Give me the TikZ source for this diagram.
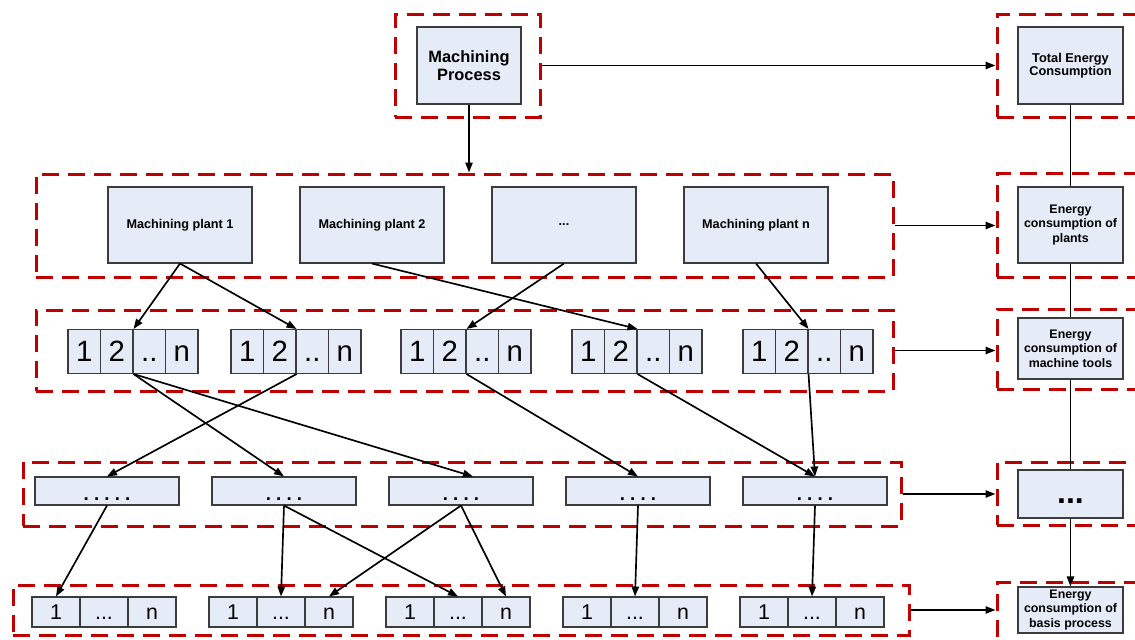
\documentclass[tikz,border=0pt]{standalone}
\usepackage{fontspec}
\setmainfont{Liberation Sans}
\usetikzlibrary{arrows.meta}
\newdimen\pxu \pxu=0.75pt
\frenchspacing
\definecolor{frmred}{RGB}{192,0,0}
\definecolor{boxfill}{RGB}{229,236,247}
\definecolor{boxline}{RGB}{60,60,60}
\tikzset{
  frm/.style={draw=frmred, line width=2.25pt, dash pattern=on 12.5pt off 7pt, inner sep=0pt},
  box/.style={draw=boxline, fill=boxfill, line width=0.8pt, inner sep=0pt, align=center},
  lbl/.style={box, font=\bfseries\fontsize{9.3}{10.8}\selectfont},
  plant/.style={box, font=\bfseries\fontsize{9.5}{11}\selectfont, minimum width=144\pxu, minimum height=76\pxu},
  cellA/.style={box, font=\fontsize{22}{24}\selectfont, minimum width=32.5\pxu, minimum height=44\pxu, text height=32\pxu, text depth=12\pxu},
  dotbox/.style={box, font=\bfseries\fontsize{14}{16}\selectfont, minimum width=144\pxu, minimum height=28\pxu, text height=23.5\pxu, text depth=4.5\pxu},
  cellB/.style={box, font=\fontsize{16}{18}\selectfont, minimum width=48\pxu, minimum height=30\pxu, text height=22.3\pxu, text depth=7.7\pxu},
  ln/.style={line width=1.25pt, black},
  arr/.style={ln, -{Triangle[length=7.5pt,width=5.5pt]}}
}
\newcommand\mtgroup[2]{%
  \node[cellA] (#1c1) at (#2+16.25,351.5) {1};
  \node[cellA] (#1c2) at (#2+48.75,351.5) {2};
  \node[cellA] (#1c3) at (#2+81.25,351.5) {..};
  \node[cellA] (#1c4) at (#2+113.75,351.5) {n};
}
\newcommand\bpgroup[2]{%
  \node[cellB] (#1c1) at (#2+24,612) {1};
  \node[cellB] (#1c2) at (#2+72,612) {...};
  \node[cellB] (#1c3) at (#2+120,612) {n};
}
\begin{document}
\begin{tikzpicture}[x=0.75pt,y=-0.75pt]
\useasboundingbox (0,0) rectangle (1135,639);
\clip (0,0) rectangle (1135,639);

% dashed frames
\node[frm, minimum width=145\pxu, minimum height=103\pxu] (f0) at (467.5,65.5) {};
\node[frm, minimum width=163\pxu, minimum height=103\pxu] (fte) at (1078.5,65.5) {};
\node[frm, minimum width=857\pxu, minimum height=103\pxu] (f2) at (464.5,225.5) {};
\node[frm, minimum width=163\pxu, minimum height=104\pxu] (fep) at (1078.5,225) {};
\node[frm, minimum width=857\pxu, minimum height=81\pxu] (f3) at (464.5,350.5) {};
\node[frm, minimum width=163\pxu, minimum height=80\pxu] (femt) at (1078.5,349) {};
\node[frm, minimum width=878\pxu, minimum height=64\pxu] (f4) at (462,494) {};
\node[frm, minimum width=163\pxu, minimum height=63\pxu] (fdots) at (1078.5,493.5) {};
\node[frm, minimum width=896\pxu, minimum height=50\pxu] (f5) at (461,610) {};
\node[frm, minimum width=163\pxu, minimum height=78\pxu] (fbp) at (1078.5,621) {};

% top
\node[box, font=\bfseries\fontsize{12.3}{13.8}\selectfont, minimum width=104\pxu, minimum height=77\pxu] (mp) at (469,65.5) {Machining\\Process};

% right column
\node[lbl, font=\bfseries\fontsize{9.6}{10.2}\selectfont, minimum width=105\pxu, minimum height=77\pxu] (te) at (1070.5,65.5) {Total Energy\\Consumption};
\node[lbl, minimum width=105\pxu, minimum height=76\pxu] (ep) at (1070.5,225) {Energy\\consumption of\\plants};
\node[lbl, minimum width=105\pxu, minimum height=61\pxu] (emt) at (1070.5,348.5) {Energy\\consumption of\\machine tools};
\node[box, font=\bfseries\fontsize{24}{26}\selectfont, minimum width=105\pxu, minimum height=48\pxu, text height=33.5\pxu, text depth=14.5\pxu] (rd) at (1070.5,494) {...};
\node[lbl, minimum width=105\pxu, minimum height=46\pxu] (bp) at (1070.5,610) {Energy\\consumption of\\basis process};

% plants
\node[plant] (p1) at (180,225) {Machining plant 1};
\node[plant] (p2) at (372,225) {Machining plant 2};
\node[plant] (p3) at (564,225) {...};
\node[plant] (p4) at (756,225) {Machining plant n};

% machine tool groups
\mtgroup{g1}{68}
\mtgroup{g2}{231}
\mtgroup{g3}{401}
\mtgroup{g4}{572}
\mtgroup{g5}{743}

% row 4
\node[dotbox] (b1) at (107,491) {.\ .\ .\ .\ .};
\node[dotbox] (b2) at (284,491) {.\ .\ .\ .};
\node[dotbox] (b3) at (461,491) {.\ .\ .\ .};
\node[dotbox] (b4) at (638,491) {.\ .\ .\ .};
\node[dotbox] (b5) at (815,491) {.\ .\ .\ .};

% row 5
\bpgroup{r1}{32}
\bpgroup{r2}{209}
\bpgroup{r3}{386}
\bpgroup{r4}{563}
\bpgroup{r5}{740}

% connectors
\draw[arr] (f0.east) -- (fte.west);
\draw[arr] (mp.south) -- (mp.south |- f2.north);
\draw[ln] (te.south) -- (ep.north);
\draw[ln] (ep.south) -- (emt.north);
\draw[ln] (emt.south) -- (rd.north);
\draw[arr] (rd.south) -- (bp.north);
\draw[arr] (f2.east) -- (f2.east -| fep.west);
\draw[arr] (f3.east) -- (f3.east -| femt.west);
\draw[arr] (f4.east) -- (f4.east -| fdots.west);
\draw[arr] (f5.east) -- (f5.east -| fbp.west);

\draw[arr] (p1.south) -- (g1c2.north east);
\draw[arr] (p1.south) -- (g2c2.north east);
\draw[arr] (p2.south) -- (g4c2.north east);
\draw[arr] (p3.south) -- (g3c2.north east);
\draw[arr] (p4.south) -- (g5c2.north east);

\draw[arr] (g1c2.south east) -- (b2.north);
\draw[arr] (g1c2.south east) -- ([xshift=12\pxu]b3.north);
\draw[arr] (g2c2.south east) -- (b1.north);
\draw[arr] (g3c2.south east) -- (b4.north);
\draw[arr] (g4c2.south east) -- (b5.north);
\draw[arr] (g5c2.south east) -- (b5.north);

\draw[arr] (b1.south) -- (r1c1.north);
\draw[arr] (b2.south) -- (r2c2.north);
\draw[arr] (b2.south) -- (r3c2.north);
\draw[arr] (b3.south) -- (r2c3.north);
\draw[arr] (b3.south) -- (r3c3.north);
\draw[arr] (b4.south) -- (r4c2.north);
\draw[arr] (b5.south) -- (r5c2.north);
\end{tikzpicture}
\end{document}
